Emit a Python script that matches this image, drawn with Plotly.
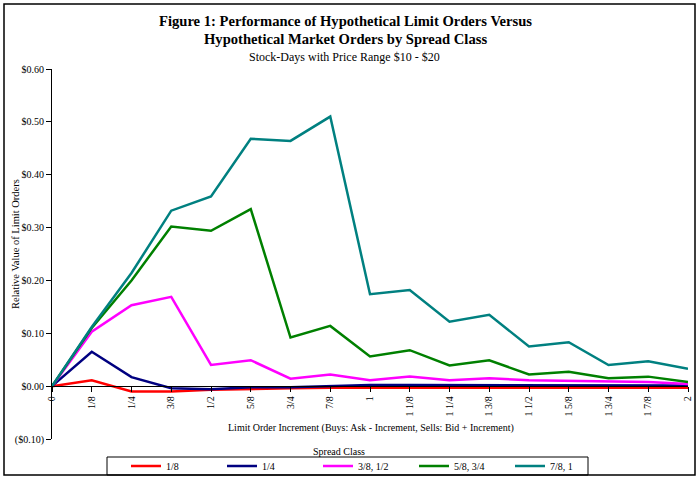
import plotly.graph_objects as go

categories = ["0", "1/8", "1/4", "3/8", "1/2", "5/8", "3/4", "7/8", "1",
              "1 1/8", "1 1/4", "1 3/8", "1 1/2", "1 5/8", "1 3/4", "1 7/8", "2"]

s_1_8 = [0, 0.011, -0.010, -0.010, -0.007, -0.005, -0.004, -0.003, -0.003,
         -0.003, -0.003, -0.003, -0.003, -0.003, -0.003, -0.003, -0.003]
s_1_4 = [0, 0.065, 0.017, -0.004, -0.006, -0.002, -0.002, 0.000, 0.002,
         0.002, 0.002, 0.002, 0.002, 0.002, 0.002, 0.002, 0.001]
s_3_8_1_2 = [0, 0.103, 0.153, 0.169, 0.040, 0.049, 0.014, 0.022, 0.011,
             0.018, 0.011, 0.015, 0.011, 0.010, 0.008, 0.008, 0.004]
s_5_8_3_4 = [0, 0.110, 0.200, 0.302, 0.294, 0.335, 0.092, 0.114, 0.056,
             0.068, 0.039, 0.049, 0.022, 0.027, 0.015, 0.018, 0.008]
s_7_8_1 = [0, 0.112, 0.214, 0.332, 0.359, 0.468, 0.464, 0.510, 0.174,
           0.182, 0.122, 0.135, 0.075, 0.083, 0.040, 0.047, 0.033]

series_names = ["1/8", "1/4", "3/8, 1/2", "5/8, 3/4", "7/8, 1"]
series_values = [s_1_8, s_1_4, s_3_8_1_2, s_5_8_3_4, s_7_8_1]
series_colors = ["#FF0000", "#000080", "#FF00FF", "#008000", "#008080"]

y_tickvals = [-0.1, 0.0, 0.1, 0.2, 0.3, 0.4, 0.5, 0.6]
y_ticktext = ["($0.10)", "$0.00", "$0.10", "$0.20", "$0.30", "$0.40", "$0.50", "$0.60"]

FONT = "Liberation Serif, Times New Roman, serif"

fig = go.Figure()
for name, vals, col in zip(series_names, series_values, series_colors):
    fig.add_trace(go.Scatter(x=categories, y=vals, mode="lines", name=name,
                             line=dict(color=col, width=2.5)))

W, H = 700, 479
L, R, T, B = 52, 12, 69, 40
pw, ph = W - L - R, H - T - B

def px(x):
    return (x - L) / pw

def py(y):
    return (H - B - y) / ph

fig.update_layout(
    width=W, height=H,
    margin=dict(l=L, r=R, t=T, b=B, autoexpand=False),
    paper_bgcolor="white", plot_bgcolor="white",
    font=dict(family=FONT, size=10, color="black"),
    showlegend=True,
    legend=dict(orientation="h", x=px(366), y=py(466), xanchor="center", yanchor="middle",
                borderwidth=0, bgcolor="rgba(0,0,0,0)", font=dict(family=FONT, size=10),
                entrywidth=51, itemwidth=30, tracegroupgap=0),
    xaxis=dict(type="category", range=[0, len(categories) - 1],
               tickangle=-90, showline=True, linecolor="black", linewidth=1,
               ticks="outside", ticklen=5, tickcolor="black", showgrid=False,
               zeroline=False, anchor="free", position=0.1/0.7,
               tickfont=dict(family=FONT, size=10)),
    yaxis=dict(range=[-0.1, 0.6], tickvals=y_tickvals, ticktext=y_ticktext,
               showline=True, linecolor="black", linewidth=1, ticks="outside",
               ticklen=5, tickcolor="black", showgrid=False, zeroline=False,
               tickfont=dict(family=FONT, size=10)),
)

# outer chart border
fig.add_shape(type="rect", xref="paper", yref="paper",
              x0=px(4), x1=px(695), y0=py(475), y1=py(4),
              line=dict(color="black", width=1.5), fillcolor="rgba(0,0,0,0)", layer="below")
# legend box
fig.add_shape(type="rect", xref="paper", yref="paper",
              x0=px(107), x1=px(588), y0=py(475), y1=py(457),
              line=dict(color="black", width=1), fillcolor="rgba(0,0,0,0)", layer="below")

anns = [
    dict(text="<b>Figure 1: Performance of Hypothetical Limit Orders Versus</b>", x=px(345), y=py(21), size=14.6),
    dict(text="<b>Hypothetical Market Orders by Spread Class</b>", x=px(345), y=py(39), size=14.6),
    dict(text="Stock-Days with Price Range $10 - $20", x=px(344), y=py(57), size=12),
    dict(text="Limit Order Increment (Buys: Ask - Increment, Sells: Bid + Increment)", x=px(371), y=py(428), size=10),
    dict(text="Spread Class", x=px(339), y=py(451), size=10),
]
for a in anns:
    fig.add_annotation(text=a["text"], x=a["x"], y=a["y"], xref="paper", yref="paper",
                       showarrow=False, xanchor="center", yanchor="middle",
                       font=dict(family=FONT, size=a["size"], color="black"))

fig.add_annotation(text="Relative Value of Limit Orders", x=px(15), y=py(244),
                   xref="paper", yref="paper", showarrow=False, textangle=-90,
                   xanchor="center", yanchor="middle",
                   font=dict(family=FONT, size=10.5, color="black"))

fig.write_html("out.html", config={"displayModeBar": False},
               post_script="document.body.style.margin='0px';document.body.style.overflow='hidden';")
